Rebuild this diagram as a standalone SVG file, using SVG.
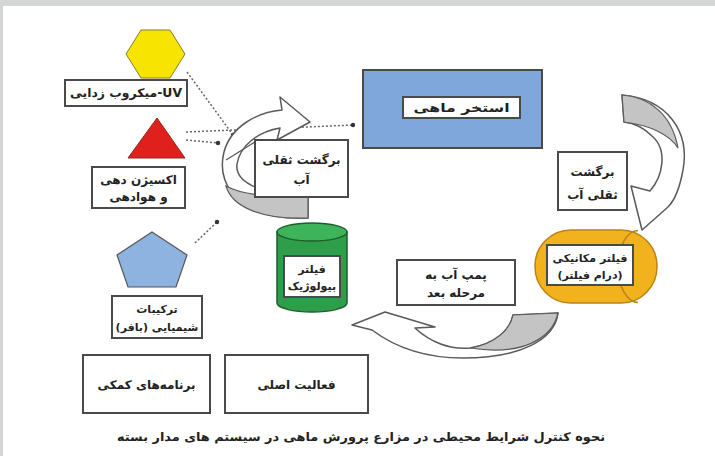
<svg xmlns="http://www.w3.org/2000/svg" width="715" height="456" viewBox="0 0 715 456">
<style>
.box{fill:#fff;stroke:#4a4a4a;stroke-width:2}
.t{font-family:"DejaVu Sans","Noto Sans",sans-serif;font-weight:bold;font-size:12px;fill:#222;text-anchor:middle}
.s{font-size:11px}
.arrow{fill:#fff;stroke:#5a5a5a;stroke-width:1.5;stroke-linejoin:round}
.under{fill:#c4c4c4;stroke:#5a5a5a;stroke-width:1.2}
.dot{fill:none;stroke:#666;stroke-width:1.5;stroke-dasharray:2 2}
</style>
<defs>
<marker id="dm" markerWidth="6" markerHeight="6" refX="3" refY="3" markerUnits="userSpaceOnUse"><circle cx="3" cy="3" r="2.2" fill="#333"/></marker>
</defs>
<rect width="715" height="456" fill="#fff"/>
<rect width="715" height="6" fill="#d4d5d7"/>
<rect width="3" height="456" fill="#d4d5d7"/>

<g id="connectors">
<path class="dot" d="M187,72 L233,135" marker-end="url(#dm)"/>
<path class="dot" d="M186,132 L353,125" marker-end="url(#dm)"/>
<path class="dot" d="M186,140 L218,143" marker-end="url(#dm)"/>
<path class="dot" d="M195,243 L217,222" marker-end="url(#dm)"/>
<g id="arrow-left">
<path class="arrow" d="M308,218 C250,221 214,192 224,152 C231,126 258,112 282,110 L280,97 L310,122 L277,140 L280,128 C257,132 240,146 237,164 C234,185 270,196 308,197 Z"/>
<path class="under" d="M308,218 C262,220 232,207 226,186 C244,196 276,197 308,197 Z"/>
<path fill="none" stroke="#5a5a5a" stroke-width="1.2" d="M226,160 L258,140"/>
</g>
<g id="arrow-right">
<path class="arrow" d="M622,95 C668,99 690,132 683,170 C679,192 672,203 668,207 L642,230 L631,186 L650,191 C663,176 668,150 652,136 C643,127 633,123 624,122 Z"/>
<path class="under" d="M622,95 C650,97 672,115 678,148 C670,135 650,125 624,122 Z"/>
</g>
<g id="arrow-bottom">
<path class="arrow" d="M558,313 C555,340 520,358 463,358 C420,358 392,345 372,330 L352,325 L385,312 L435,327 L415,328 C430,342 450,350 470,348 C495,344 510,330 513,315 Z"/>
<path class="under" d="M558,313 L513,315 C510,330 495,344 470,348 C520,356 552,340 558,313 Z"/>
</g>
</g>

<g id="uv">
<polygon points="126,54 141,30 170,30 185,54 170,78 141,78" fill="#f7e400" stroke="#8a7d20" stroke-width="1"/>
<rect class="box" x="65" y="80" width="122" height="26"/>
<text class="t" x="126" y="97" textLength="112" lengthAdjust="spacingAndGlyphs">میکروب زدایی-UV</text>
</g>
<g id="oxygen">
<polygon points="157,118 128,158 185,158" fill="#e0201c" stroke="#8a2a20" stroke-width="1"/>
<rect class="box" x="92" y="167" width="93" height="41"/>
<text class="t" x="138.5" y="184">اکسیژن دهی</text>
<text class="t" x="138.5" y="201">و هوادهی</text>
</g>
<g id="chemical">
<polygon points="152,232 187,255 176,287 128,287 117,255" fill="#8fb3e0" stroke="#555" stroke-width="1.2"/>
<rect class="box" x="112" y="296" width="90" height="42"/>
<text class="t s" x="157" y="313">ترکیبات</text>
<text class="t s" x="157" y="331">شیمیایی (بافر)</text>
</g>
<g id="aux">
<rect class="box" x="83" y="355" width="127" height="58"/>
<text class="t" x="146.5" y="389" font-size="13">برنامه‌های کمکی</text>
</g>
<g id="main">
<rect class="box" x="225" y="355" width="143" height="58"/>
<text class="t" x="296.5" y="389" font-size="13">فعالیت اصلی</text>
</g>
<g id="return-left">
<rect class="box" x="255" y="140" width="93" height="57"/>
<text class="t" x="301.5" y="164" font-size="13">برگشت ثقلی</text>
<text class="t" x="301.5" y="184" font-size="13">آب</text>
</g>
<g id="pool">
<rect x="363" y="70" width="179" height="78" fill="#7fa7dc" stroke="#4a4a4a" stroke-width="2"/>
<rect class="box" x="403" y="97" width="117" height="21"/>
<text class="t" x="461.5" y="112" textLength="96" lengthAdjust="spacingAndGlyphs">استخر ماهی</text>
</g>
<g id="return-right">
<rect class="box" x="558" y="152" width="69" height="58"/>
<text class="t" x="592.5" y="176" font-size="13">برگشت</text>
<text class="t" x="592.5" y="199" font-size="13">ثقلی آب</text>
</g>
<g id="bio">
<path d="M277,232 L277,303 A35,9 0 0 0 347,303 L347,232 Z" fill="#2f9e4a" stroke="#1d5e2c" stroke-width="1.5"/>
<ellipse cx="312" cy="232" rx="35" ry="9" fill="#3db45a" stroke="#1d5e2c" stroke-width="1.5"/>
<rect class="box" x="284" y="256" width="56" height="41"/>
<text class="t s" x="312" y="273">فیلتر</text>
<text class="t s" x="312" y="290">بیولوژیک</text>
</g>
<g id="drum">
<rect x="535" y="230" width="122" height="73" rx="36" ry="36" fill="#f2b21e" stroke="#b98316" stroke-width="1.5"/>
<path d="M638,230.5 A20,36 0 0 0 638,302.5" fill="none" stroke="#b98316" stroke-width="1.5"/>
<rect class="box" x="547" y="245" width="86" height="40"/>
<text class="t s" x="590" y="262">فیلتر مکانیکی</text>
<text class="t s" x="590" y="279">(درام فیلتر)</text>
</g>
<g id="pump">
<rect class="box" x="397" y="260" width="118" height="45"/>
<text class="t" x="456" y="279">پمپ آب به</text>
<text class="t" x="456" y="297">مرحله بعد</text>
</g>
<text class="t" x="361" y="441" font-size="12" textLength="488" lengthAdjust="spacingAndGlyphs">نحوه کنترل شرایط محیطی در مزارع پرورش ماهی در سیستم های مدار بسته</text>
</svg>
